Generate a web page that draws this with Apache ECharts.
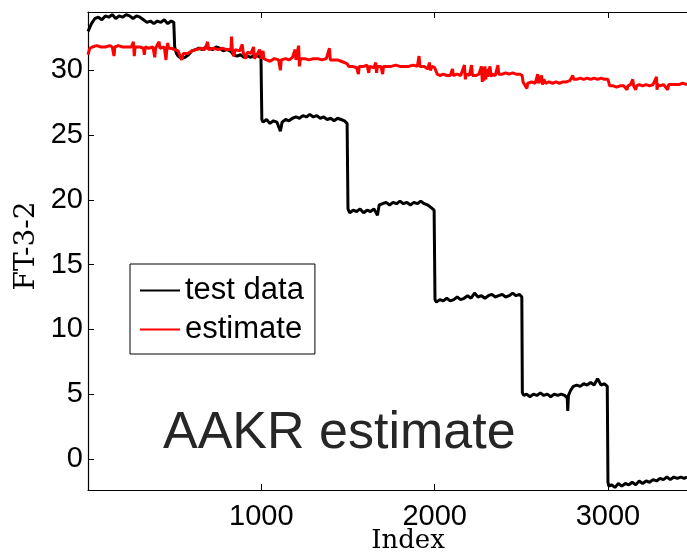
<!DOCTYPE html>
<html>
<head>
<meta charset="utf-8">
<script src="https://cdn.jsdelivr.net/npm/echarts@6/dist/echarts.min.js"></script>
<style>
  html, body { margin: 0; padding: 0; background: #fff; }
  #chart { width: 687px; height: 553px; }
</style>
</head>
<body>
<div id="chart"></div>
<script>
// tick labels
var xTicks = [1000, 2000, 3000];
var yTicks = [0, 5, 10, 15, 20, 25, 30];

// test data, [index, value]
var testData = [
  [0, 33.0], [10, 33.3], [20, 33.6], [40, 34.0], [60, 34.1], [80, 33.9], [100, 34.2], [120, 34.1],
  [140, 34.3], [160, 34.0], [180, 34.2], [200, 34.1], [220, 34.3], [240, 34.2], [260, 34.0], [280, 34.2],
  [300, 34.1], [320, 33.9], [340, 33.7], [360, 33.8], [380, 33.6], [400, 33.8], [420, 33.7], [440, 33.9],
  [460, 33.6], [480, 33.8], [495, 33.7],
  [500, 31.8], [510, 31.3], [520, 31.1], [540, 30.9], [560, 31.0], [580, 31.2], [600, 31.5], [620, 31.6],
  [640, 31.7], [660, 31.6], [680, 31.8], [700, 31.7], [720, 31.6], [740, 31.8], [760, 31.7], [780, 31.5],
  [800, 31.6], [820, 31.5], [840, 31.2], [860, 31.1], [880, 31.2], [900, 31.0], [920, 31.1], [940, 31.0],
  [960, 31.2], [980, 31.1], [998, 31.0],
  [1003, 26.2], [1010, 26.0], [1030, 26.2], [1050, 25.9], [1070, 26.1], [1090, 26.0], [1110, 25.3], [1120, 26.0],
  [1140, 26.2], [1160, 26.1], [1180, 26.3], [1200, 26.4], [1220, 26.3], [1240, 26.5], [1260, 26.4], [1280, 26.6],
  [1300, 26.4], [1320, 26.5], [1340, 26.3], [1360, 26.4], [1380, 26.2], [1400, 26.3], [1420, 26.1], [1440, 26.3],
  [1460, 26.2], [1480, 26.1], [1495, 25.9],
  [1500, 19.3], [1510, 19.0], [1530, 19.2], [1550, 19.1], [1570, 19.3], [1590, 19.0], [1610, 19.2], [1630, 19.1],
  [1650, 19.3], [1670, 18.8], [1680, 19.6], [1700, 19.7], [1720, 19.8], [1740, 19.6], [1760, 19.8], [1780, 19.7],
  [1800, 19.9], [1820, 19.7], [1840, 19.8], [1860, 19.6], [1880, 19.8], [1900, 19.7], [1920, 19.9], [1940, 19.7],
  [1960, 19.6], [1980, 19.4], [1997, 19.2],
  [2002, 12.3], [2010, 12.1], [2030, 12.3], [2050, 12.2], [2070, 12.4], [2090, 12.2], [2110, 12.3], [2130, 12.5],
  [2150, 12.3], [2170, 12.4], [2190, 12.6], [2210, 12.4], [2230, 12.8], [2250, 12.5], [2270, 12.6], [2290, 12.4],
  [2310, 12.6], [2330, 12.7], [2350, 12.5], [2370, 12.6], [2390, 12.7], [2410, 12.5], [2430, 12.6], [2450, 12.8],
  [2470, 12.6], [2490, 12.7], [2503, 12.5],
  [2506, 5.1], [2515, 4.9], [2530, 5.0], [2550, 4.8], [2570, 5.0], [2590, 4.9], [2610, 5.1], [2630, 4.9],
  [2650, 5.0], [2670, 4.8], [2690, 5.0], [2710, 4.9], [2730, 5.0], [2750, 4.9], [2765, 4.7], [2768, 3.7],
  [2772, 4.9], [2785, 5.3], [2800, 5.6], [2820, 5.7], [2840, 5.6], [2860, 5.8], [2880, 5.7], [2900, 5.9],
  [2920, 5.7], [2940, 6.2], [2960, 5.7], [2980, 5.8], [2996, 5.6],
  [3000, -1.8], [3005, -2.1], [3020, -2.0], [3040, -2.2], [3060, -1.9], [3080, -2.1], [3100, -1.9], [3120, -2.0],
  [3140, -1.8], [3160, -2.0], [3180, -1.7], [3200, -1.9], [3220, -1.7], [3240, -1.8], [3260, -1.6], [3280, -1.7],
  [3300, -1.5], [3320, -1.6], [3340, -1.4], [3360, -1.6], [3380, -1.4], [3400, -1.5], [3420, -1.4], [3440, -1.5],
  [3456, -1.4]
];

// AAKR estimate, [index, value]
var estimateData = [
  [0, 31.2], [10, 31.7], [25, 31.8], [50, 31.9], [75, 31.8], [100, 31.8], [125, 31.9], [140, 31.8],
  [150, 31.1], [155, 31.8], [175, 31.9], [200, 31.8], [225, 31.8], [250, 31.8], [262, 32.2], [267, 31.1],
  [272, 31.8], [300, 31.8], [320, 31.7], [325, 31.2], [330, 31.8], [350, 31.7], [375, 31.8], [385, 31.0],
  [390, 31.7], [410, 32.2], [415, 31.7], [440, 31.8], [450, 30.8], [455, 31.7], [460, 32.1], [465, 31.7],
  [480, 31.7], [500, 31.6], [520, 31.5], [540, 30.8], [550, 31.3], [575, 31.3], [600, 31.5], [625, 31.6],
  [650, 31.7], [675, 31.6], [690, 32.2], [695, 31.6], [725, 31.7], [750, 31.6], [775, 31.7], [800, 31.6],
  [825, 31.6], [828, 32.6], [833, 31.5], [840, 31.1], [850, 31.6], [875, 31.5], [890, 32.0], [895, 31.4],
  [910, 30.9], [920, 31.4], [940, 31.3], [955, 31.8], [960, 30.9], [975, 31.2], [990, 31.6],
  [1000, 30.9], [1010, 31.5], [1015, 30.9], [1030, 30.8], [1050, 30.7], [1075, 30.9], [1100, 30.8], [1110, 30.0],
  [1115, 30.8], [1140, 30.9], [1160, 30.8], [1180, 31.0], [1195, 31.6], [1200, 30.8], [1215, 31.9], [1220, 30.3],
  [1225, 30.9], [1250, 30.9], [1275, 30.8], [1300, 30.9], [1325, 30.9], [1350, 30.8], [1375, 30.9], [1393, 31.7],
  [1398, 30.8], [1420, 30.8], [1440, 30.8], [1460, 30.7], [1480, 30.6], [1495, 30.5],
  [1505, 30.3], [1525, 30.3], [1550, 30.2], [1560, 29.7], [1565, 30.3], [1590, 30.3], [1610, 30.4], [1620, 29.8],
  [1625, 30.3], [1650, 30.2], [1660, 30.6], [1665, 29.8], [1670, 30.3], [1690, 30.3], [1700, 29.7], [1705, 30.3],
  [1730, 30.3], [1750, 30.3], [1775, 30.4], [1800, 30.3], [1825, 30.3], [1850, 30.3], [1875, 30.4], [1900, 30.3],
  [1910, 31.1], [1915, 30.3], [1925, 30.2], [1940, 30.3], [1960, 30.1], [1970, 30.6], [1975, 30.0], [1985, 30.3],
  [2000, 30.2], [2015, 29.7],
  [2030, 29.6], [2050, 29.7], [2070, 29.6], [2090, 29.6], [2103, 30.1], [2108, 29.6], [2130, 29.7], [2150, 29.6],
  [2172, 30.4], [2177, 29.3], [2182, 29.7], [2200, 29.6], [2213, 30.4], [2218, 29.6], [2240, 29.6], [2255, 29.7],
  [2270, 30.3], [2275, 29.1], [2280, 30.2], [2285, 29.2], [2290, 30.3], [2295, 29.3], [2300, 30.1], [2305, 29.5],
  [2310, 29.9], [2320, 30.3], [2325, 29.5], [2330, 29.7], [2350, 29.6], [2365, 30.4], [2370, 29.7], [2390, 29.7],
  [2410, 29.8], [2430, 29.7], [2450, 29.8], [2470, 29.7], [2490, 29.7], [2505, 29.6],
  [2510, 29.1], [2520, 29.0], [2532, 28.6], [2537, 29.0], [2560, 29.1], [2580, 29.0], [2595, 29.7], [2600, 29.0],
  [2617, 29.6], [2622, 28.9], [2630, 29.3], [2640, 29.0], [2660, 29.1], [2680, 29.0], [2700, 29.1], [2720, 29.0],
  [2740, 29.1], [2760, 29.1], [2780, 29.2], [2797, 29.6], [2802, 29.3], [2820, 29.3], [2840, 29.4], [2860, 29.3],
  [2880, 29.4], [2900, 29.3], [2920, 29.4], [2940, 29.3], [2960, 29.4], [2980, 29.3], [3000, 29.3],
  [3010, 28.8], [3030, 28.8], [3050, 28.7], [3070, 28.8], [3090, 28.8], [3110, 28.5], [3115, 28.8], [3130, 28.9],
  [3143, 29.3], [3148, 28.8], [3160, 28.5], [3165, 28.8], [3180, 28.9], [3200, 28.8], [3220, 28.9], [3240, 28.8],
  [3260, 28.9], [3280, 29.5], [3283, 28.5], [3288, 28.9], [3300, 28.8], [3320, 28.9], [3345, 28.5], [3350, 28.9],
  [3370, 28.9], [3390, 28.9], [3410, 28.9], [3430, 29.0], [3456, 28.9]
];

var chart = echarts.init(document.getElementById('chart'), null, { renderer: 'canvas' });

var tickFont = 'Liberation Sans';

var option = {
  animation: false,
  backgroundColor: '#fff',
  grid: { left: 88, right: 0, top: 12, bottom: 63 },
  legend: {
    orient: 'vertical',
    left: 130,
    top: 264,
    icon: 'rect',
    itemWidth: 40,
    itemHeight: 2,
    itemGap: 0,
    padding: [7, 11, 5, 10],
    borderColor: '#000',
    borderWidth: 1,
    backgroundColor: '#fff',
    textStyle: { fontFamily: tickFont, fontSize: 31, color: '#000', lineHeight: 39 },
    data: ['test data', 'estimate']
  },
  xAxis: [
    {
      type: 'value', min: 0, max: 3456, position: 'bottom',
      axisLine: { onZero: false, lineStyle: { color: '#000', width: 1.2 } },
      axisTick: { inside: true, length: 6, customValues: xTicks, lineStyle: { color: '#000' } },
      axisLabel: {
        customValues: xTicks, fontFamily: tickFont, fontSize: 29, color: '#000', margin: 12,
        formatter: function (v) { return String(v); }
      },
      splitLine: { show: false }
    },
    {
      type: 'value', min: 0, max: 3456, position: 'top',
      axisLine: { show: true, onZero: false, lineStyle: { color: '#000', width: 1.2 } },
      axisTick: { inside: true, length: 6, customValues: xTicks, lineStyle: { color: '#000' } },
      axisLabel: { show: false },
      splitLine: { show: false }
    }
  ],
  yAxis: {
    type: 'value', min: -2.4, max: 34.5,
    axisLine: { show: true, onZero: false, lineStyle: { color: '#000', width: 1.2 } },
    axisTick: { show: true, inside: true, length: 6, customValues: yTicks, lineStyle: { color: '#000' } },
    axisLabel: { customValues: yTicks, fontFamily: tickFont, fontSize: 29, color: '#000', margin: 5 },
    splitLine: { show: false }
  },
  graphic: [
    {
      type: 'text', x: 27, y: 246, rotation: Math.PI / 2,
      style: { text: 'FT-3-2', font: '28px "DejaVu Serif"', fill: '#000', align: 'center', verticalAlign: 'middle' }
    },
    {
      type: 'text', x: 408, y: 541,
      style: { text: 'Index', font: '26px "DejaVu Serif"', fill: '#000', align: 'center', verticalAlign: 'middle' }
    },
    {
      type: 'text', x: 163, y: 434, z: 10,
      style: { text: 'AAKR estimate', font: '52px "Liberation Sans"', fill: '#262626', align: 'left', verticalAlign: 'middle' }
    }
  ],
  series: [
    {
      name: 'test data', type: 'line', data: testData, xAxisIndex: 0,
      showSymbol: false, color: '#000',
      lineStyle: { color: '#000', width: 3 }
    },
    {
      name: 'estimate', type: 'line', data: estimateData, xAxisIndex: 0,
      showSymbol: false, color: '#ff0000',
      lineStyle: { color: '#ff0000', width: 3 }
    }
  ]
};

chart.setOption(option);
</script>
</body>
</html>
